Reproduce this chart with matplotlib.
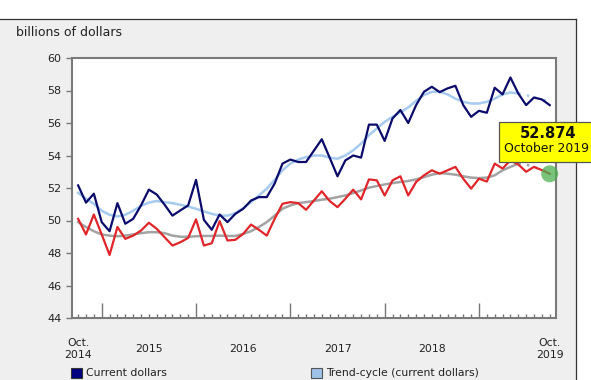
import matplotlib.pyplot as plt
import matplotlib.patches as mpatches
import numpy as np

# monthly values, Oct 2014 .. Oct 2019 (billions of dollars)
current = [52.16, 51.1, 51.65, 49.9, 49.34, 51.07, 49.8, 50.1, 50.93, 51.9,
           51.6, 50.97, 50.3, 50.62, 50.93, 52.5, 50.04, 49.43, 50.37, 49.9,
           50.41, 50.72, 51.23, 51.44, 51.44, 52.27, 53.5, 53.75, 53.6, 53.6,
           54.3, 55.0, 53.87, 52.72, 53.7, 54.0, 53.87, 55.9, 55.9, 54.9,
           56.28, 56.8, 56.0, 57.1, 57.92, 58.23, 57.9, 58.13, 58.29, 57.1,
           56.38, 56.75, 56.63, 58.17, 57.76, 58.8, 57.82, 57.1, 57.57, 57.45,
           57.1]
trend_current = [51.7, 51.34, 51.03, 50.6, 50.35, 50.25, 50.35, 50.6, 50.9, 51.1,
                 51.2, 51.13, 51.07, 50.97, 50.86, 50.72, 50.56, 50.41, 50.3, 50.3,
                 50.45, 50.76, 51.13, 51.54, 51.96, 52.5, 53.09, 53.5, 53.75, 53.9,
                 54.0, 54.0, 53.87, 53.8, 54.0, 54.32, 54.73, 55.25, 55.66, 56.07,
                 56.38, 56.65, 56.96, 57.36, 57.72, 57.92, 57.92, 57.76, 57.5, 57.3,
                 57.2, 57.2, 57.3, 57.5, 57.76, 57.88, 57.82, 57.72, 57.57, 57.45,
                 57.3]
chained = [50.1, 49.14, 50.37, 49.14, 47.88, 49.6, 48.87, 49.07, 49.38, 49.86,
           49.49, 48.97, 48.46, 48.66, 48.93, 50.07, 48.46, 48.6, 49.96, 48.77,
           48.81, 49.18, 49.75, 49.43, 49.07, 50.1, 51.03, 51.13, 51.07, 50.66,
           51.23, 51.8, 51.2, 50.82, 51.34, 51.9, 51.3, 52.53, 52.47, 51.54,
           52.47, 52.72, 51.54, 52.37, 52.78, 53.09, 52.88, 53.09, 53.3, 52.57,
           51.96, 52.57, 52.4, 53.5, 53.2, 53.7, 53.45, 53.0, 53.3, 53.1,
           52.874]
trend_chained = [49.9, 49.6, 49.34, 49.14, 49.07, 49.03, 49.07, 49.14, 49.22, 49.28,
                 49.28, 49.22, 49.07, 49.0, 49.0, 49.03, 49.05, 49.05, 49.07, 49.05,
                 49.05, 49.18, 49.34, 49.6, 49.9, 50.3, 50.72, 50.93, 51.07, 51.13,
                 51.2, 51.28, 51.34, 51.44, 51.54, 51.69, 51.85, 52.02, 52.12, 52.22,
                 52.3, 52.37, 52.43, 52.53, 52.67, 52.82, 52.92, 52.88, 52.82, 52.72,
                 52.64, 52.61, 52.64, 52.78, 53.09, 53.3, 53.5, 53.44, 53.3, 53.1,
                 52.95]
year_labels = ['Oct.\n2014', '2015', '2016', '2017', '2018', 'Oct.\n2019']
year_pos = [0, 9, 21, 33, 45, 60]
jan_pos = [3, 15, 27, 39, 51]

plt.rcParams['font.family'] = ['DejaVu Sans']
txt = '#222222'
W, H = 591, 380

fig = plt.figure(figsize=(5.91, 3.80), dpi=100, facecolor='white')
# grey panel with dark top/right border
fig.patches.append(mpatches.Rectangle((0, 0), 576 / W, 361 / H, transform=fig.transFigure,
                                      facecolor='#efefef', edgecolor='none', zorder=-2))
fig.lines.append(plt.Line2D([0, 576 / W], [361 / H, 361 / H], transform=fig.transFigure,
                            color='#333333', lw=0.9))
fig.lines.append(plt.Line2D([576 / W, 576 / W], [0, 361 / H], transform=fig.transFigure,
                            color='#333333', lw=0.9))

ax = fig.add_axes([72 / W, (H - 318) / H, (556 - 72) / W, (318 - 58) / H])
ax.set_facecolor('white')
x = np.arange(len(current))

ax.plot(x[:57], trend_current[:57], color='#a6cbee', lw=1.8, zorder=2)
ax.plot(x[56:], trend_current[56:], color='#a6cbee', lw=1.8, ls=(0, (1, 2.5)), zorder=2)
ax.plot(x[:57], trend_chained[:57], color='#a3a3a3', lw=1.8, zorder=2)
ax.plot(x[56:], trend_chained[56:], color='#a3a3a3', lw=1.8, ls=(0, (1, 2.5)), zorder=2)
ax.plot(x, current, color='#0b0b6b', lw=1.6, zorder=3)
ax.plot(x, chained, color='#e0262a', lw=1.6, zorder=3)
ax.scatter([x[-1]], [chained[-1]], s=150, color='#4caf50', alpha=0.75,
           edgecolors='none', zorder=5, clip_on=False)

ax.set_xlim(-0.78, 60.8)
ax.set_ylim(44, 60)
ax.set_yticks(np.arange(44, 61, 2))
ax.tick_params(axis='y', direction='out', length=4.3, width=1, color='#777777',
               labelsize=8, labelcolor=txt, pad=3.3)
ax.set_xticks(jan_pos)
ax.set_xticks(x, minor=True)
ax.tick_params(axis='x', which='major', direction='in', length=10.8, width=1,
               color='#777777', labelbottom=False)
ax.tick_params(axis='x', which='minor', direction='in', length=2.9, width=1,
               color='#777777')
for s in ax.spines.values():
    s.set_color('#7a7a7a')
    s.set_linewidth(1.5)

for p, lab in zip(year_pos, year_labels):
    ax.text(p, -31 / 260, lab, transform=ax.get_xaxis_transform(), ha='center',
            va='center', fontsize=7.8, color=txt, linespacing=1.35)

fig.text(16 / W, (H - 33) / H, 'billions of dollars', fontsize=9, color=txt,
         ha='left', va='center')

# legend
for lx, col, ec, lab in [(71, '#000080', '#333333', 'Current dollars'),
                         (311, '#9dc3e6', '#555555', 'Trend-cycle (current dollars)')]:
    fig.patches.append(mpatches.Rectangle((lx / W, (H - 378) / H), 11 / W, 10 / H,
                                          transform=fig.transFigure, facecolor=col,
                                          edgecolor=ec, lw=0.8))
    fig.text((lx + 15) / W, (H - 373) / H, lab, fontsize=7.8, color=txt,
             ha='left', va='center')

# tooltip
fig.patches.append(mpatches.Rectangle((499 / W, (H - 162) / H), 120 / W, 40 / H,
                                      transform=fig.transFigure, facecolor='#ffff00',
                                      edgecolor='#555555', lw=0.9, zorder=6))
fig.text(548 / W, (H - 133) / H, '52.874', fontsize=10.5, fontweight='bold',
         color='#111111', ha='center', va='center', zorder=7)
fig.text(504 / W, (H - 149) / H, 'October 2019', fontsize=8.9, color='#111111',
         ha='left', va='center', zorder=7)

fig.savefig('out.png', dpi=100)
